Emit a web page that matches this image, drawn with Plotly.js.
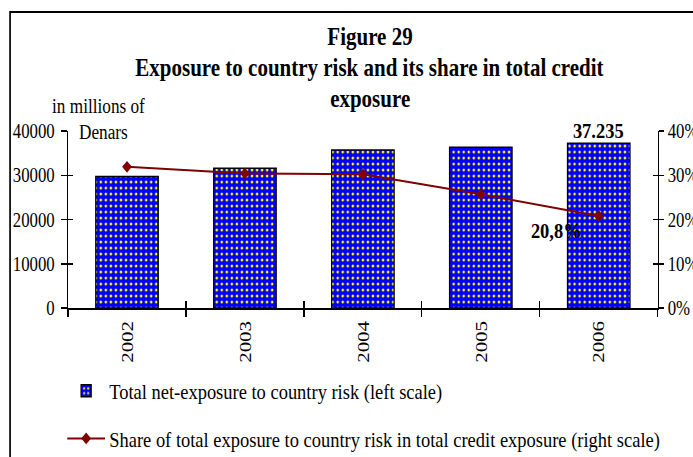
<!DOCTYPE html>
<html>
<head>
<meta charset="utf-8">
<script src="https://cdn.plot.ly/plotly-3.0.1.min.js"></script>
<style>
html,body{margin:0;padding:0;background:#fff;}
#wrap{width:693px;height:457px;overflow:hidden;position:relative;}
#chart{width:825px;height:457px;transform:scaleX(0.84);transform-origin:0 0;}
</style>
</head>
<body>
<div id="wrap"><div id="chart"></div></div>
<script>
const years = ['2002', '2003', '2004', '2005', '2006'];
const exposure = [29700, 31600, 35700, 36300, 37235];
const share = [0.319, 0.304, 0.302, 0.257, 0.208];
const exposureLabel = '37.235';
const shareLabel = '20,8%';
const barName = 'Total net-exposure to country risk (left scale)';
const lineName = 'Share of total exposure to country risk in total credit exposure (right scale)';

const FONT = 'Liberation Serif, Times New Roman, serif';
const S = 0.84;                 // horizontal squeeze of the reference picture
const W = 693, H = 457;         // visible size
const L = 68, R = 658, T = 131, B = 308;   // plot area in visible pixels
const px = x => (x - L) / (R - L);
const py = y => (B - y) / (B - T);

const traces = [
  {
    type: 'bar', x: years, y: exposure, name: barName, legendgroup: 'a',
    width: 0.53,
    marker: {
      color: '#0000ff',
      line: {color: '#000', width: 1.5},
      pattern: {shape: '.', bgcolor: '#0000ff', fgcolor: '#ffff00', fgopacity: 1, size: 6, solidity: 0.2}
    },
    hoverinfo: 'skip'
  },
  {
    type: 'scatter', mode: 'lines+markers', x: years, y: share, yaxis: 'y2', name: lineName, legendgroup: 'b',
    line: {color: '#800000', width: 2},
    marker: {symbol: 'diamond', size: 9, color: '#800000'},
    hoverinfo: 'skip'
  },
  {
    type: 'scatter', mode: 'markers', x: years, y: exposure, xaxis: 'x2', yaxis: 'y3',
    marker: {opacity: 0}, showlegend: false, hoverinfo: 'skip'
  },
  {
    type: 'scatter', mode: 'markers', x: years, y: share, xaxis: 'x2', yaxis: 'y4',
    marker: {opacity: 0}, showlegend: false, hoverinfo: 'skip'
  }
];

const axCommon = {showgrid: false, zeroline: false, linecolor: '#000', tickcolor: '#000', tickwidth: 1.5};

const layout = {
  width: W / S, height: H,
  margin: {l: L / S, r: (W - R) / S, t: T, b: H - B, pad: 0, autoexpand: false},
  paper_bgcolor: '#fff', plot_bgcolor: '#fff',
  font: {family: FONT, color: '#000', size: 20},
  showlegend: true,
  title: {
    text: '<b>Figure 29</b>',
    font: {family: FONT, size: 25, color: '#000'},
    x: 370 / W, xanchor: 'center', xref: 'container',
    y: 1 - 36 / H, yanchor: 'middle', yref: 'container'
  },
  xaxis: Object.assign({}, axCommon, {
    type: 'category', categoryarray: years, range: [-0.5, 4.5],
    showline: true, linewidth: 1.5, ticks: 'outside', tickson: 'boundaries', ticklen: 7,
    tickangle: -90, ticklabelstandoff: 3, tickfont: {family: FONT, size: 21}
  }),
  xaxis2: Object.assign({}, axCommon, {
    type: 'category', categoryarray: years, range: [-0.5, 4.5], overlaying: 'x', anchor: 'y',
    showline: false, ticks: 'inside', tickson: 'boundaries', ticklen: 7, showticklabels: false
  }),
  yaxis: Object.assign({}, axCommon, {
    range: [0, 40000], dtick: 10000, tickformat: 'd',
    showline: true, linewidth: 1.8, ticks: 'outside', ticklen: 6, ticklabelstandoff: 4,
    tickfont: {family: FONT, size: 20}
  }),
  yaxis2: Object.assign({}, axCommon, {
    range: [0, 0.4], dtick: 0.1, tickformat: '.0%', overlaying: 'y', side: 'right', anchor: 'x',
    showline: true, linewidth: 1.8, ticks: 'outside', ticklen: 6,
    tickfont: {family: FONT, size: 20}
  }),
  yaxis3: Object.assign({}, axCommon, {
    range: [0, 40000], dtick: 10000, overlaying: 'y', side: 'left', anchor: 'x',
    showline: false, ticks: 'inside', ticklen: 6, showticklabels: false
  }),
  yaxis4: Object.assign({}, axCommon, {
    range: [0, 0.4], dtick: 0.1, overlaying: 'y', side: 'right', anchor: 'x',
    showline: false, ticks: 'inside', ticklen: 6, showticklabels: false
  }),
  legend: {
    x: px(63), xanchor: 'left', y: py(370), yanchor: 'top',
    orientation: 'v', itemwidth: 45, tracegroupgap: 16,
    font: {family: FONT, size: 22, color: '#000'},
    bgcolor: 'rgba(0,0,0,0)'
  },
  annotations: [
    {text: '<b>Exposure to country risk and its share in total credit</b>', xref: 'paper', yref: 'paper',
     x: px(370), y: py(67), xanchor: 'center', yanchor: 'middle', showarrow: false,
     font: {family: FONT, size: 25}},
    {text: '<b>exposure</b>', xref: 'paper', yref: 'paper',
     x: px(370), y: py(98), xanchor: 'center', yanchor: 'middle', showarrow: false,
     font: {family: FONT, size: 25}},
    {text: 'in millions of', xref: 'paper', yref: 'paper',
     x: px(50), y: py(106), xanchor: 'left', yanchor: 'middle', showarrow: false,
     font: {family: FONT, size: 20.5}},
    {text: 'Denars', xref: 'paper', yref: 'paper',
     x: px(77), y: py(132), xanchor: 'left', yanchor: 'middle', showarrow: false,
     font: {family: FONT, size: 20.5}},
    {text: '<b>' + exposureLabel + '</b>', xref: 'x', yref: 'y',
     x: 4, y: exposure[4], xanchor: 'center', yanchor: 'middle', showarrow: false, yshift: 13,
     font: {family: FONT, size: 22}},
    {text: '<b>' + shareLabel + '</b>', xref: 'x', yref: 'y2',
     x: 4, y: share[4], xanchor: 'center', yanchor: 'middle', showarrow: false, xshift: -50, yshift: -15,
     font: {family: FONT, size: 22}}
  ],
  shapes: [
    {type: 'rect', xref: 'paper', yref: 'paper', x0: px(10), x1: px(760), y0: py(490), y1: py(12),
     line: {color: '#000', width: 2}, fillcolor: 'rgba(0,0,0,0)', layer: 'below'}
  ]
};

Plotly.newPlot('chart', traces, layout, {staticPlot: true, displayModeBar: false});
</script>
</body>
</html>
